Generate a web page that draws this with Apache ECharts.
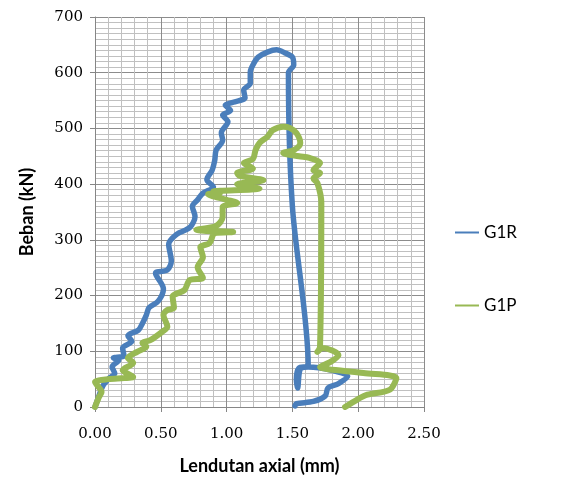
<!DOCTYPE html>
<html><head><meta charset="utf-8">
<script src="https://cdn.jsdelivr.net/npm/echarts@6/dist/echarts.min.js"></script>
<style>html,body{margin:0;padding:0;background:#fff}#c{width:584px;height:480px}</style>
</head><body><div id="c"></div>
<script>
const xTicks = ["0.00","0.50","1.00","1.50","2.00","2.50"];
const yTicks = [0,100,200,300,400,500,600,700];
const seriesNames = ["G1R","G1P"];
const g1rX = [0,0.03,0.06,0.11,0.15,0.13,0.18,0.14,0.22,0.21,0.28,0.25,0.33,0.36,0.39,0.41,0.48,0.52,0.46,0.55,0.58,0.56,0.62,0.72,0.76,0.74,0.78,0.82,0.90,0.85,0.89,0.91,0.92,0.97,0.96,1.01,0.97,1.03,0.99,1.05,1.14,1.13,1.18,1.18,1.20,1.24,1.31,1.38,1.44,1.50,1.51,1.47,1.50,1.62,1.55,1.53,1.54,1.56,1.62,1.80,1.92,1.85,1.77,1.75,1.66,1.53,1.52];
const g1rY = [0,20,38,52,60,72,84,88,92,106,118,128,138,150,165,178,190,212,240,246,262,292,310,322,342,360,372,384,395,408,425,443,461,479,492,512,524,532,542,547,555,569,581,601,614,628,637,641,636,628,614,600,360,75,70,50,34,68,72,66,55,42,34,20,10,6,2];
const g1pX = [0,0.03,0.05,0.02,0.0,0.10,0.22,0.29,0.21,0.29,0.25,0.32,0.39,0.36,0.42,0.51,0.55,0.52,0.55,0.60,0.59,0.68,0.72,0.82,0.78,0.82,0.80,0.87,0.91,1.05,0.77,0.92,0.97,0.97,1.08,1.00,0.86,0.95,0.90,1.25,1.08,1.28,1.10,1.08,1.20,1.13,1.20,1.22,1.25,1.31,1.35,1.43,1.48,1.53,1.56,1.51,1.43,1.55,1.63,1.71,1.66,1.71,1.66,1.69,1.72,1.71,1.69,1.73,1.85,1.79,1.71,2.04,2.29,2.24,2.07,1.99,1.90];
const g1pY = [0,18,27,38,45,50,52,54,66,79,88,99,108,115,120,135,144,165,174,178,198,210,228,232,251,269,287,294,312,314,318,325,341,359,366,372,382,384,387,392,400,407,415,420,428,438,445,461,474,485,497,503,501,492,474,461,456,450,447,438,425,420,410,402,366,108,99,106,93,81,72,61,52,31,22,13,0];
const zip = (a,b) => a.map((v,i)=>[v,b[i]]);
const chart = echarts.init(document.getElementById('c'));
const FONT = 'Lato';
const TICKFONT = 'DejaVu Serif';
chart.setOption({
  animation:false,
  grid:{left:95,right:160,top:17,bottom:73,containLabel:false},
  legend:{orient:'vertical',left:450,top:219,itemWidth:24,itemHeight:10,itemGap:56,
    icon:'path://M0,4 L24,4 L24,6 L0,6 Z',
    textStyle:{fontFamily:FONT,fontSize:17,color:'#000'},data:seriesNames},
  xAxis:{type:'value',min:0,max:2.5,interval:0.5,
    name:'Lendutan axial (mm)',nameLocation:'middle',nameGap:50,
    nameTextStyle:{fontFamily:FONT,fontSize:18,fontWeight:'bold',color:'#000'},
    axisLine:{show:true,lineStyle:{color:'#868686'}},
    axisTick:{show:true,length:5,lineStyle:{color:'#868686'}},
    axisLabel:{fontFamily:TICKFONT,fontSize:15,color:'#000',margin:20,formatter:(v,i)=>xTicks[i]},
    splitLine:{show:true,lineStyle:{color:'#8c8c8c',width:1}},
    minorTick:{show:false,splitNumber:5},
    minorSplitLine:{show:true,lineStyle:{color:'#c0c0c0',width:1}}},
  yAxis:{type:'value',min:0,max:700,interval:100,
    name:'Beban (kN)',nameLocation:'middle',nameGap:59,nameRotate:90,
    nameTextStyle:{fontFamily:FONT,fontSize:18,fontWeight:'bold',color:'#000'},
    axisLine:{show:true,lineStyle:{color:'#868686'}},
    axisTick:{show:true,length:5,lineStyle:{color:'#868686'}},
    axisLabel:{fontFamily:TICKFONT,fontSize:15,color:'#000',margin:12,formatter:(v,i)=>String(yTicks[i])},
    splitLine:{show:true,lineStyle:{color:'#8c8c8c',width:1}},
    minorTick:{show:false,splitNumber:10},
    minorSplitLine:{show:true,lineStyle:{color:'#c0c0c0',width:1}}},
  series:[
    {name:seriesNames[0],type:'line',data:zip(g1rX,g1rY),showSymbol:false,smooth:0.3,
     lineStyle:{color:'#4a7ebb',width:5.5,cap:'round',join:'round'},itemStyle:{color:'#4a7ebb'}},
    {name:seriesNames[1],type:'line',data:zip(g1pX,g1pY),showSymbol:false,smooth:0.3,
     lineStyle:{color:'#98b954',width:6,cap:'round',join:'round'},itemStyle:{color:'#98b954'}}
  ]
});
</script></body></html>
